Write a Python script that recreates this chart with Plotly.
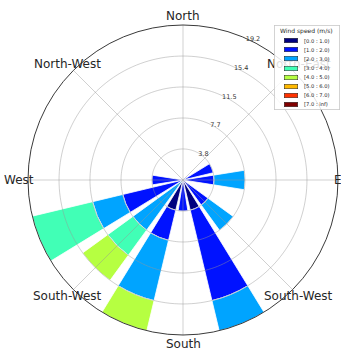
import numpy as np
import plotly.graph_objects as go

# Sector centres, degrees clockwise from north (16 sectors)
sector_angles = [0, 22.5, 45, 67.5, 90, 112.5, 135, 157.5,
                 180, 202.5, 225, 247.5, 270, 292.5, 315, 337.5]

# Wind-speed classes (m/s)
speed_bins = ["[0.0 : 1.0)", "[1.0 : 2.0)", "[2.0 : 3.0)", "[3.0 : 4.0)",
              "[4.0 : 5.0)", "[5.0 : 6.0)", "[6.0 : 7.0)", "[7.0 : inf)"]

# Frequency (%) per sector for each speed class
#            N  NNE NE  ENE   E    ESE  SE    SSE    S    SSW   SW    WSW   W    WNW NW NNW
freq_0_1 = [0, 0, 0, 0,    0,    0, 0,    3.85,  0,    3.85, 0,    0,    0,    0, 0, 0]
freq_1_2 = [0, 0, 0, 3.85, 3.85, 0, 3.85, 11.54, 3.85, 3.85, 0,    7.69, 3.85, 0, 0, 0]
freq_2_3 = [0, 0, 0, 0,    3.85, 0, 3.85, 3.85,  0,    7.69, 7.69, 3.85, 0,    0, 0, 0]
freq_3_4 = [0, 0, 0, 0,    0,    0, 0,    0,     0,    0,    3.85, 7.69, 0,    0, 0, 0]
freq_4_5 = [0, 0, 0, 0,    0,    0, 0,    0,     0,    3.85, 3.85, 0,    0,    0, 0, 0]
freq_5_6 = [0, 0, 0, 0,    0,    0, 0,    0,     0,    0,    0,    0,    0,    0, 0, 0]
freq_6_7 = [0, 0, 0, 0,    0,    0, 0,    0,     0,    0,    0,    0,    0,    0, 0, 0]
freq_7_up = [0, 0, 0, 0,   0,    0, 0,    0,     0,    0,    0,    0,    0,    0, 0, 0]

# Jet colours for the eight classes
bin_colors = ["#00007f", "#0012ff", "#00a4ff", "#41ffb6",
              "#b6ff41", "#ffb900", "#ff3200", "#800000"]

# Radial rings and their labels
radial_ticks = [3.85, 7.69, 11.54, 15.38, 19.23]
radial_labels = ["3.8", "7.7", "11.5", "15.4", "19.2"]
r_max = 19.23

# Compass labels around the rose
compass_angles = [0, 45, 90, 135, 180, 225, 270, 315]
compass_labels = ["North", "North-East", "East", "South-West",
                  "South", "South-West", "West", "North-West"]

W, H = 341, 348
PLOT_LEFT, PLOT_TOP, PLOT_SIZE = 28, 25, 310
cx = PLOT_LEFT + PLOT_SIZE / 2
cy = PLOT_TOP + PLOT_SIZE / 2
FONT = "DejaVu Sans"

series = [freq_0_1, freq_1_2, freq_2_3, freq_3_4,
          freq_4_5, freq_5_6, freq_6_7, freq_7_up]

fig = go.Figure()
for name, vals, col in zip(speed_bins, series, bin_colors):
    fig.add_trace(go.Barpolar(
        r=vals, theta=sector_angles, width=18, name=name,
        marker=dict(color=col, line=dict(color="white", width=0.8)),
        showlegend=False, hoverinfo="skip",
    ))

# Grid drawn over the bars: rings and 45-degree spokes
ring_theta = np.linspace(0, 360, 181)
ring_r, ring_t = [], []
for v in radial_ticks[:-1]:
    ring_r += [v] * len(ring_theta) + [None]
    ring_t += list(ring_theta) + [None]
for a in compass_angles:
    ring_r += [0, r_max, None]
    ring_t += [a, a, None]
fig.add_trace(go.Scatterpolar(
    r=ring_r, theta=ring_t, mode="lines",
    line=dict(color="rgba(150,150,150,0.45)", width=1),
    showlegend=False, hoverinfo="skip",
))

annotations = []
# Compass labels, centred just outside the rim
r_lab = PLOT_SIZE / 2 + 9
for a, txt in zip(compass_angles, compass_labels):
    px = cx + r_lab * np.sin(np.radians(a))
    py = cy - r_lab * np.cos(np.radians(a))
    annotations.append(dict(
        x=px / W, y=1 - py / H, xref="paper", yref="paper",
        xanchor="center", yanchor="middle", showarrow=False, text=txt,
        font=dict(family=FONT, size=12, color="#262626"),
    ))

# Legend box
LG_LEFT, LG_TOP, LG_W, LG_H = 274, 25, 64, 83
annotations.append(dict(
    x=LG_LEFT / W, y=1 - LG_TOP / H, xref="paper", yref="paper",
    xanchor="left", yanchor="top", showarrow=False, text=" ",
    width=LG_W, height=LG_H, borderpad=0,
    bgcolor="rgba(255,255,255,0.85)", bordercolor="#c8c8c8", borderwidth=0.8,
    font=dict(size=4),
))
annotations.append(dict(
    x=(LG_LEFT + LG_W / 2) / W, y=1 - (LG_TOP + 6) / H, xref="paper", yref="paper",
    xanchor="center", yanchor="middle", showarrow=False, text="Wind speed (m/s)",
    font=dict(family=FONT, size=6, color="#262626"),
))
for i, (name, col) in enumerate(zip(speed_bins, bin_colors)):
    ry = LG_TOP + 15.7 + i * 9.1
    annotations.append(dict(
        x=(LG_LEFT + 10) / W, y=1 - ry / H, xref="paper", yref="paper",
        xanchor="left", yanchor="middle", showarrow=False, text=" ",
        width=13, height=4, borderpad=0, bgcolor=col,
        bordercolor="#202020", borderwidth=0.5, font=dict(size=3),
    ))
    annotations.append(dict(
        x=(LG_LEFT + 28) / W, y=1 - ry / H, xref="paper", yref="paper",
        xanchor="left", yanchor="middle", showarrow=False, text=name,
        font=dict(family=FONT, size=5.2, color="#262626"),
    ))

fig.update_layout(
    width=W, height=H,
    margin=dict(l=0, r=0, t=0, b=0),
    paper_bgcolor="white",
    font=dict(family=FONT),
    showlegend=False,
    annotations=annotations,
    polar=dict(
        domain=dict(x=[PLOT_LEFT / W, (PLOT_LEFT + PLOT_SIZE) / W],
                    y=[1 - (PLOT_TOP + PLOT_SIZE) / H, 1 - PLOT_TOP / H]),
        bgcolor="white",
        barmode="stack",
        angularaxis=dict(
            rotation=90, direction="clockwise",
            tickvals=compass_angles, showticklabels=False, ticks="",
            showgrid=False, showline=True, linecolor="#3a3a3a", linewidth=1,
        ),
        radialaxis=dict(
            range=[0, r_max], angle=67.5, tickangle=67.5,
            tickvals=radial_ticks, ticktext=radial_labels, ticks="",
            showline=False, showgrid=False,
            tickfont=dict(family=FONT, size=6.5, color="#333333"),
        ),
    ),
)

fig.write_html("out.html")
